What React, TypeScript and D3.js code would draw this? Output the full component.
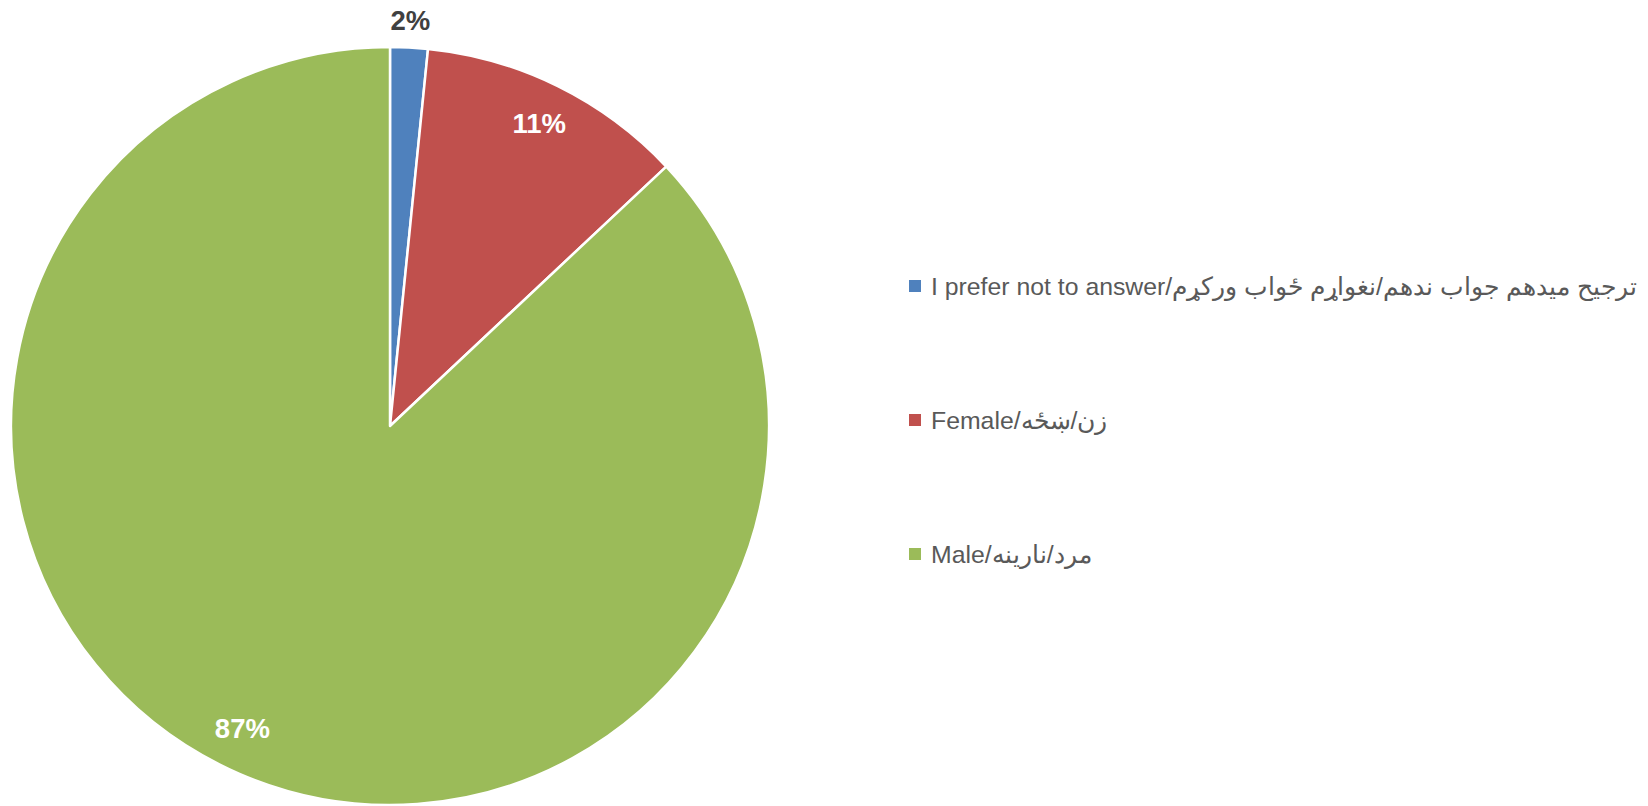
import React, { useEffect, useRef } from "react";
import * as d3 from "d3";

// slice data (clockwise from 12 o'clock)
const categories = [
  "I prefer not to answer/ترجیح میدهم جواب ندهم/نغواړم ځواب ورکړم",
  "Female/زن/ښځه",
  "Male/مرد/نارینه",
];
const values = [1.6, 11.4, 87.0];
const labels = ["2%", "11%", "87%"];
const colors = ["#4F81BD", "#C0504D", "#9BBB59"];

const App = () => {
  const svgRef = useRef<SVGSVGElement>(null);
  const width = 1648;
  const height = 806;
  const cx = 390;
  const cy = 426;
  const radius = 379;

  useEffect(() => {
    if (!svgRef.current) return;
    const svg = d3.select(svgRef.current);
    svg.selectAll("*").remove();

    const data = categories.map((c, i) => ({
      name: c,
      value: values[i],
      label: labels[i],
      color: colors[i],
    }));

    const pie = d3
      .pie<any>()
      .sort(null)
      .value((d) => d.value);
    const arcs = pie(data);

    const arc = d3.arc<any>().innerRadius(0).outerRadius(radius);

    const g = svg.append("g").attr("transform", `translate(${cx},${cy})`);

    g.selectAll("path")
      .data(arcs)
      .enter()
      .append("path")
      .attr("d", arc)
      .attr("fill", (d) => d.data.color)
      .attr("stroke", "white")
      .attr("stroke-width", 2.5)
      .attr("stroke-linejoin", "round");

    // data labels: small slice outside, others inside near the edge
    // (excel nudges the big slice's label a bit further round)
    g.selectAll("text.lbl")
      .data(arcs)
      .enter()
      .append("text")
      .attr("class", "lbl")
      .attr("transform", (d) => {
        let a = (d.startAngle + d.endAngle) / 2;
        if (d.data.value > 50) a += 0.045;
        const r = d.data.value < 5 ? radius + 27 : radius - 42;
        return `translate(${Math.sin(a) * r},${-Math.cos(a) * r})`;
      })
      .attr("text-anchor", "middle")
      .attr("dominant-baseline", "central")
      .attr("fill", (d) => (d.data.value < 5 ? "#404040" : "white"))
      .style("font-family", "'Liberation Sans', Arial, sans-serif")
      .style("font-weight", "bold")
      .style("font-size", "27.5px")
      .text((d) => d.data.label);

    // legend
    const legend = svg.append("g").attr("transform", "translate(909, 286)");
    const rowGap = 134;
    data.forEach((d, i) => {
      legend
        .append("rect")
        .attr("x", 0)
        .attr("y", i * rowGap - 6)
        .attr("width", 12)
        .attr("height", 12)
        .attr("fill", d.color);
      legend
        .append("text")
        .attr("x", 22)
        .attr("y", i * rowGap)
        .attr("dominant-baseline", "central")
        .attr("fill", "#595959")
        .style("font-family", "'Liberation Sans', Arial, sans-serif")
        .style("font-size", "24.8px")
        .text(d.name);
    });
  }, []);

  return (
    <div>
      <svg
        ref={svgRef}
        width={width}
        height={height}
        style={{ position: "absolute", left: 0, top: 0, background: "white" }}
      ></svg>
    </div>
  );
};

export default App;
